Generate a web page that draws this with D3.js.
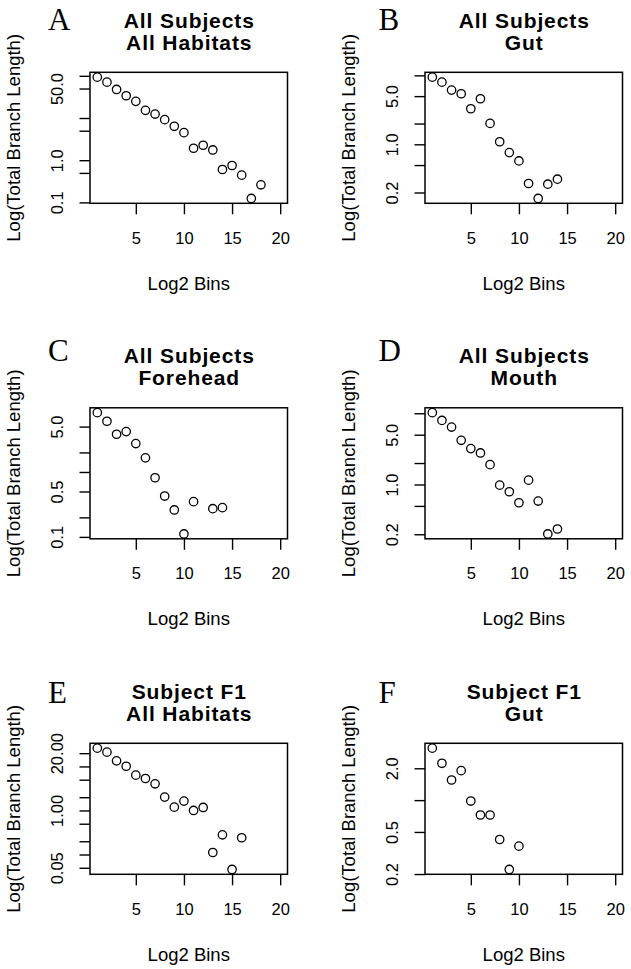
<!DOCTYPE html>
<html>
<head>
<meta charset="utf-8">
<script src="https://cdn.jsdelivr.net/npm/d3@7"></script>
<style>
  html, body { margin: 0; padding: 0; background: #fff; }
  svg { display: block; }
</style>
</head>
<body>
<svg id="chart" width="631" height="969"></svg>
<script>
// ---------- data ----------
const panelLetters = ["A", "B", "C", "D", "E", "F"];
const titleLine1 = ["All Subjects", "All Subjects", "All Subjects", "All Subjects", "Subject F1", "Subject F1"];
const titleLine2 = ["All Habitats", "Gut", "Forehead", "Mouth", "All Habitats", "Gut"];
const xLabel = "Log2 Bins";
const yLabel = "Log(Total Branch Length)";
const xLimits = [1, 20];
const xTicks = [5, 10, 15, 20];

const binsA = [1, 2, 3, 4, 5, 6, 7, 8, 9, 10, 11, 12, 13, 14, 15, 16, 17, 18];
const valuesA = [93, 70.8, 47.5, 33.7, 24.8, 15.2, 12.4, 9.14, 6.36, 4.5, 1.92, 2.26, 1.75, 0.602, 0.748, 0.442, 0.124, 0.261];
const yTicksA = [0.1, 0.5, 1, 5, 10, 50, 100];
const yLabelsA = ["0.1", "", "1.0", "", "", "50.0", ""];

const binsB = [1, 2, 3, 4, 5, 6, 7, 8, 9, 10, 11, 12, 13, 14];
const valuesB = [9.42, 7.97, 6.11, 5.41, 3.28, 4.58, 2.01, 1.09, 0.758, 0.574, 0.27, 0.164, 0.264, 0.312];
const yTicksB = [0.2, 0.5, 1, 2, 5, 10];
const yLabelsB = ["0.2", "", "1.0", "", "5.0", ""];

const binsC = [1, 2, 3, 4, 5, 6, 7, 8, 9, 10, 11, 13, 14];
const valuesC = [8.2, 6.04, 3.81, 4.19, 2.74, 1.65, 0.815, 0.426, 0.26, 0.111, 0.349, 0.272, 0.282];
const yTicksC = [0.1, 0.2, 0.5, 1, 2, 5];
const yLabelsC = ["0.1", "", "0.5", "", "", "5.0"];

const binsD = [1, 2, 3, 4, 5, 6, 7, 8, 9, 10, 11, 12, 13, 14];
const valuesD = [10.2, 7.93, 6.4, 4.17, 3.19, 2.77, 1.9, 0.979, 0.79, 0.554, 1.15, 0.585, 0.202, 0.237];
const yTicksD = [0.2, 0.5, 1, 2, 5, 10];
const yLabelsD = ["0.2", "", "1.0", "", "5.0", ""];

const binsE = [1, 2, 3, 4, 5, 6, 7, 8, 9, 10, 11, 12, 13, 14, 15, 16];
const valuesE = [26, 21.1, 13.4, 10.1, 6.34, 5.32, 4.03, 2.01, 1.19, 1.63, 1.0, 1.17, 0.111, 0.28, 0.0458, 0.24];
const yTicksE = [0.05, 0.1, 0.2, 0.5, 1, 2, 5, 10, 20];
const yLabelsE = ["0.05", "", "", "", "1.00", "", "", "", "20.00"];

const binsF = [1, 2, 3, 4, 5, 6, 7, 8, 9, 10];
const valuesF = [3.1, 2.23, 1.55, 1.9, 0.98, 0.723, 0.723, 0.424, 0.221, 0.367];
const yTicksF = [0.2, 0.5, 1, 2];
const yLabelsF = ["0.2", "0.5", "", "2.0"];

const panelData = [
  { bins: binsA, values: valuesA, ticks: yTicksA, labels: yLabelsA },
  { bins: binsB, values: valuesB, ticks: yTicksB, labels: yLabelsB },
  { bins: binsC, values: valuesC, ticks: yTicksC, labels: yLabelsC },
  { bins: binsD, values: valuesD, ticks: yTicksD, labels: yLabelsD },
  { bins: binsE, values: valuesE, ticks: yTicksE, labels: yLabelsE },
  { bins: binsF, values: valuesF, ticks: yTicksF, labels: yLabelsF }
];

// ---------- layout ----------
const boxLeft = [90, 425];
const boxTop = [72.3, 407.8, 743.3];
const boxW = 197.5, boxH = 131;
const letterX = [48, 378.5];
const letterBaseline = [29.5, 361, 703.3];

const svg = d3.select("#chart");
const sansFont = "'Liberation Sans', Arial, Helvetica, sans-serif";

// R-style 4% padding
function padRange(lo, hi) { const d = (hi - lo) * 0.04; return [lo - d, hi + d]; }

panelData.forEach((p, i) => {
  const col = i % 2, row = Math.floor(i / 2);
  const L = boxLeft[col], T = boxTop[row];
  const g = svg.append("g").attr("transform", `translate(${L},${T})`);

  const xd = padRange(xLimits[0], xLimits[1]);
  const x = d3.scaleLinear().domain(xd).range([0, boxW]);

  const ext = d3.extent(p.values).map(Math.log10);
  const yl = padRange(ext[0], ext[1]);
  const y = d3.scaleLog().domain([Math.pow(10, yl[0]), Math.pow(10, yl[1])]).range([boxH, 0]);

  // x axis
  const xa = g.append("g").attr("transform", `translate(0,${boxH})`)
    .call(d3.axisBottom(x).tickValues(xTicks).tickSize(11).tickFormat(d3.format("d")));
  xa.select(".domain").remove();
  xa.selectAll("line").attr("stroke", "#000").attr("stroke-width", 1.4);
  xa.selectAll("text").attr("y", 40.7).attr("dy", 0)
    .attr("font-family", sansFont).attr("font-size", 16.5).attr("fill", "#000");

  // y axis
  const ya = g.append("g")
    .call(d3.axisLeft(y).tickValues(p.ticks).tickSize(10.5).tickFormat((d, k) => p.labels[k]));
  ya.select(".domain").remove();
  ya.selectAll("line").attr("stroke", "#000").attr("stroke-width", 1.4);
  ya.selectAll("text")
    .attr("x", 0).attr("y", 0).attr("dy", 0)
    .attr("transform", "translate(-27,0) rotate(-90)")
    .attr("text-anchor", "middle")
    .attr("font-family", sansFont).attr("font-size", 16.5).attr("fill", "#000");

  // box
  g.append("rect").attr("x", 0).attr("y", 0).attr("width", boxW).attr("height", boxH)
    .attr("fill", "none").attr("stroke", "#000").attr("stroke-width", 1.5);

  // points
  g.selectAll("circle.pt").data(p.bins.map((b, k) => [b, p.values[k]])).enter()
    .append("circle").attr("class", "pt")
    .attr("cx", d => x(d[0])).attr("cy", d => y(d[1])).attr("r", 4.2)
    .attr("fill", "none").attr("stroke", "#000").attr("stroke-width", 1.3);

  // axis titles
  g.append("text").attr("x", boxW / 2).attr("y", boxH + 86.7)
    .attr("text-anchor", "middle").attr("font-family", sansFont).attr("font-size", 18.5)
    .text(xLabel);
  g.append("text").attr("transform", `translate(-70,${boxH / 2}) rotate(-90)`)
    .attr("text-anchor", "middle").attr("font-family", sansFont).attr("font-size", 18.5)
    .text(yLabel);

  // main title
  g.append("text").attr("x", boxW / 2 + 0.5).attr("y", -44.6)
    .attr("text-anchor", "middle").attr("font-family", sansFont).attr("font-weight", "bold")
    .attr("font-size", 21).attr("letter-spacing", "0.9px").text(titleLine1[i]);
  g.append("text").attr("x", boxW / 2 + 0.5).attr("y", -22.5)
    .attr("text-anchor", "middle").attr("font-family", sansFont).attr("font-weight", "bold")
    .attr("font-size", 21).attr("letter-spacing", "0.9px").text(titleLine2[i]);

  // panel letter
  svg.append("text").attr("x", letterX[col]).attr("y", letterBaseline[row])
    .attr("font-family", "'Liberation Serif', 'Times New Roman', serif").attr("font-size", 31)
    .text(panelLetters[i]);
});
</script>
</body>
</html>
